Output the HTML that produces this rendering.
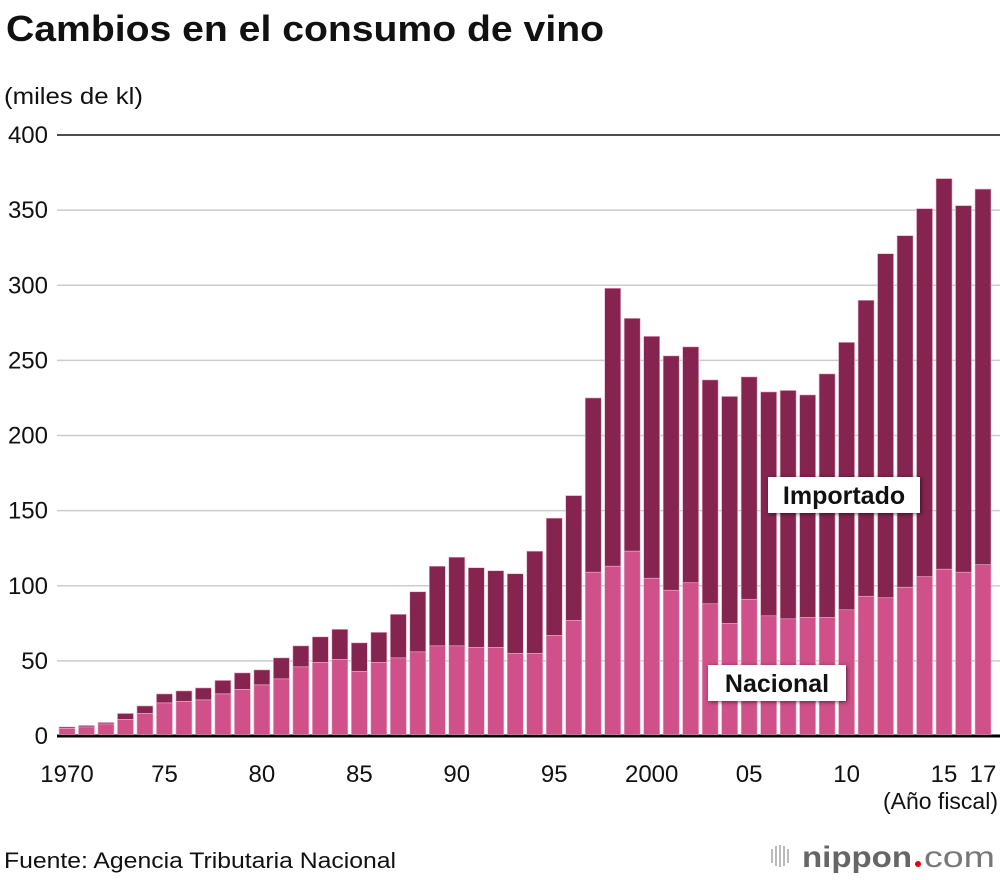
<!DOCTYPE html>
<html><head><meta charset="utf-8"><style>
html,body{margin:0;padding:0;background:#fff;width:1000px;height:880px;overflow:hidden;font-family:"Liberation Sans",Arial,sans-serif;}
svg text{font-family:"Liberation Sans",Arial,sans-serif;}
</style></head><body>
<svg id="chart" width="1000" height="880" viewBox="0 0 1000 880">
<defs><filter id="sh" x="-20%" y="-30%" width="140%" height="160%"><feDropShadow dx="1" dy="1" stdDeviation="2" flood-color="#000" flood-opacity="0.6"/></filter></defs>
<text x="6" y="41" font-size="36" font-weight="bold" fill="#111" textLength="598" lengthAdjust="spacingAndGlyphs">Cambios en el consumo de vino</text>
<text x="4" y="104" font-size="23" fill="#111" textLength="139" lengthAdjust="spacingAndGlyphs">(miles de kl)</text>
<g id="grid"></g>
<g id="bars"></g>
<g id="xlabels"></g>
<text x="998" y="809" font-size="23" text-anchor="end" fill="#111">(Año fiscal)</text>
<g>
<rect x="768" y="477" width="152" height="36" fill="#fff" filter="url(#sh)"/>
<text x="844" y="504" font-size="25" font-weight="bold" text-anchor="middle" fill="#111">Importado</text>
</g>
<g>
<rect x="708" y="665" width="138" height="36" fill="#fff" filter="url(#sh)"/>
<text x="777" y="692" font-size="25" font-weight="bold" text-anchor="middle" fill="#111">Nacional</text>
</g>
<text x="4" y="868" font-size="22" fill="#111" textLength="392" lengthAdjust="spacingAndGlyphs">Fuente: Agencia Tributaria Nacional</text>
<g>
<g fill="#bbb"><rect x="771" y="849" width="2" height="14"/><rect x="775" y="846" width="2" height="20"/><rect x="779" y="845" width="2" height="22"/><rect x="783" y="846" width="2" height="20"/><rect x="787" y="849" width="2" height="14"/></g>
<text x="802" y="867" font-size="30" font-weight="bold" fill="#666" textLength="110" lengthAdjust="spacingAndGlyphs">nippon</text>
<circle cx="918" cy="864" r="3" fill="#e60012"/>
<text x="924" y="867" font-size="30" fill="#777" textLength="71" lengthAdjust="spacingAndGlyphs">com</text>
</g>
</svg>
<script>
const years=[1970,1971,1972,1973,1974,1975,1976,1977,1978,1979,1980,1981,1982,1983,1984,1985,1986,1987,1988,1989,1990,1991,1992,1993,1994,1995,1996,1997,1998,1999,2000,2001,2002,2003,2004,2005,2006,2007,2008,2009,2010,2011,2012,2013,2014,2015,2016,2017];
const nacional=[5,6,8,11,15,22,23,24,28,31,34,38,46,49,51,43,49,52,56,60,60,59,59,55,55,67,77,109,113,123,105,97,102,88,75,91,80,78,79,79,84,93,92,99,106,111,109,114];
const total=[6,7,9,15,20,28,30,32,37,42,44,52,60,66,71,62,69,81,96,113,119,112,110,108,123,145,160,225,298,278,266,253,259,237,226,239,229,230,227,241,262,290,321,333,351,371,353,364];
const yTicks=[0,50,100,150,200,250,300,350,400];
const xLabels=[[1970,"1970"],[1975,"75"],[1980,"80"],[1985,"85"],[1990,"90"],[1995,"95"],[2000,"2000"],[2005,"05"],[2010,"10"],[2015,"15"],[2017,"17"]];
const NS="http://www.w3.org/2000/svg";
const y=v=>736-v*(601/400);
const x=yr=>67+(yr-1970)*(916/47);
const bw=16;
function mk(tag,attrs,parent){const e=document.createElementNS(NS,tag);for(const k in attrs)e.setAttribute(k,attrs[k]);parent.appendChild(e);return e;}
const grid=document.getElementById('grid');
yTicks.forEach(t=>{
  const l=mk('line',{x1:57,x2:1000,y1:y(t),y2:y(t),stroke:t===400?'#111':(t===0?'#000':'#ccc'),'stroke-width':t===0?3:1.5},grid);
  
  
  const tx=mk('text',{x:48,y:y(t)+8,'font-size':24,'text-anchor':'end',fill:'#111'},grid);
  tx.textContent=t;
  
  
});
const bars=document.getElementById('bars');
years.forEach((yr,i)=>{
  const cx=x(yr);
  const r1=mk('rect',{x:cx-bw/2,y:y(total[i]),width:bw,height:y(nacional[i])-y(total[i]),fill:'#84244f',stroke:'#e8b5cc','stroke-width':0.6},bars);
  
  
  const r2=mk('rect',{x:cx-bw/2,y:y(nacional[i]),width:bw,height:y(0)-y(nacional[i])-1.5,fill:'#d0508a',stroke:'#e8b5cc','stroke-width':0.6},bars);
  
  
});
const xl=document.getElementById('xlabels');
xLabels.forEach(([yr,lab])=>{
  const t=mk('text',{x:x(yr),y:782,'font-size':24,'text-anchor':'middle',fill:'#111'},xl);
  t.textContent=lab;
  
  
});
</script>
</body></html>
